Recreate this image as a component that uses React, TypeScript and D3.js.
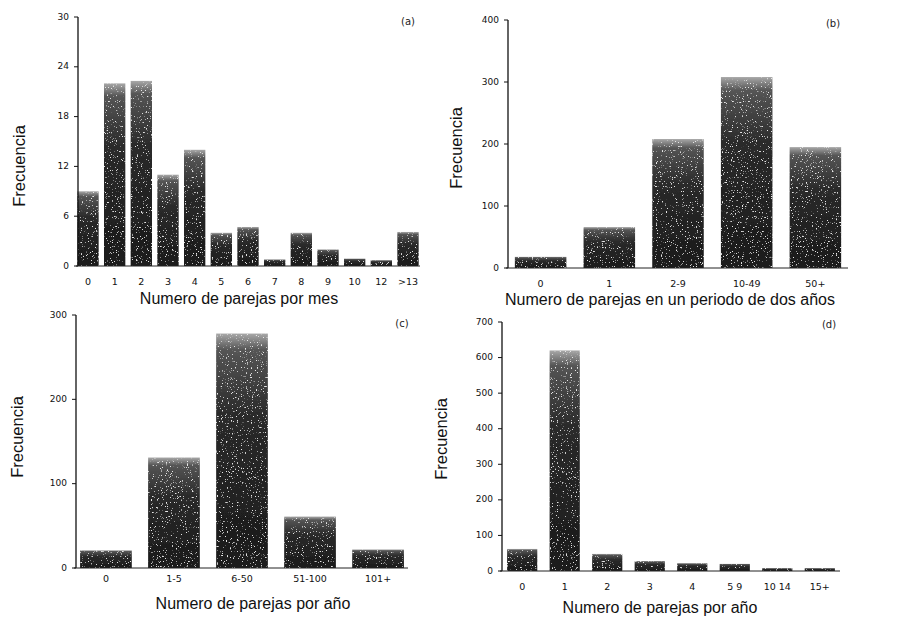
import React from "react";
import * as d3 from "d3";

const catsA = ["0", "1", "2", "3", "4", "5", "6", "7", "8", "9", "10", "12", ">13"];
const valsA = [9, 22, 22.3, 11, 14, 4, 4.7, 0.8, 4, 2, 0.9, 0.7, 4.1];
const ticksA = [0, 6, 12, 18, 24, 30];

const catsB = ["0", "1", "2-9", "10-49", "50+"];
const valsB = [18, 66, 208, 308, 195];
const ticksB = [0, 100, 200, 300, 400];

const catsC = ["0", "1-5", "6-50", "51-100", "101+"];
const valsC = [21, 131, 278, 61, 22];
const ticksC = [0, 100, 200, 300];

const catsD = ["0", "1", "2", "3", "4", "5 9", "10 14", "15+"];
const valsD = [62, 620, 48, 28, 22, 20, 8, 8];
const ticksD = [0, 100, 200, 300, 400, 500, 600, 700];

type PanelCfg = {
  id: string;
  cats: string[];
  vals: number[];
  ticks: number[];
  max: number;
  axisX: number;
  xRange: [number, number];
  yRange: [number, number];
  pi: number;
  po: number;
  tickY: number;
  title: string;
  titleX: number;
  titleY: number;
  yLabX: number;
  yLabY: number;
  tag: string;
  tagX: number;
  tagY: number;
};

const panels: PanelCfg[] = [
  {
    id: "a", cats: catsA, vals: valsA, ticks: ticksA, max: 30,
    axisX: 78, xRange: [76, 420], yRange: [266, 17], pi: 0.2, po: 0.05,
    tickY: 282, title: "Numero de parejas por mes", titleX: 239, titleY: 304,
    yLabX: 25, yLabY: 166, tag: "(a)", tagX: 408, tagY: 25,
  },
  {
    id: "b", cats: catsB, vals: valsB, ticks: ticksB, max: 400,
    axisX: 508, xRange: [508, 848], yRange: [268, 20], pi: 0.25, po: 0.1,
    tickY: 284, title: "Numero de parejas en un periodo de dos años", titleX: 670, titleY: 305,
    yLabX: 462, yLabY: 148, tag: "(b)", tagX: 833, tagY: 27,
  },
  {
    id: "c", cats: catsC, vals: valsC, ticks: ticksC, max: 300,
    axisX: 76, xRange: [76, 408], yRange: [568, 315], pi: 0.24, po: 0.06,
    tickY: 579, title: "Numero de parejas por año", titleX: 253, titleY: 609,
    yLabX: 23, yLabY: 437, tag: "(c)", tagX: 402, tagY: 327,
  },
  {
    id: "d", cats: catsD, vals: valsD, ticks: ticksD, max: 700,
    axisX: 502, xRange: [502, 840], yRange: [571, 322], pi: 0.29, po: 0.12,
    tickY: 587, title: "Numero de parejas por año", titleX: 660, titleY: 613,
    yLabX: 447, yLabY: 439, tag: "(d)", tagX: 829, tagY: 328,
  },
];

const sansTitle = "'Liberation Sans', Arial, sans-serif";
const sansTick = "'DejaVu Sans', 'Liberation Sans', sans-serif";

function Panel({ p }: { p: PanelCfg }) {
  const x = d3.scaleBand<number>()
    .domain(p.cats.map((_, i) => i))
    .range(p.xRange)
    .paddingInner(p.pi)
    .paddingOuter(p.po);
  const y = d3.scaleLinear().domain([0, p.max]).range(p.yRange);
  const y0 = y(0);
  return (
    <g>
      {p.vals.map((v, i) => (
        <rect
          key={i}
          x={x(i)}
          y={y(v)}
          width={x.bandwidth()}
          height={y0 - y(v)}
          fill="url(#barGrad)"
          filter="url(#speckle)"
        />
      ))}
      <line x1={p.axisX} x2={p.axisX} y1={y(p.max)} y2={y0} stroke="#111" strokeWidth={1.3} />
      <line x1={p.axisX - 2} x2={p.xRange[1]} y1={y0} y2={y0} stroke="#222" strokeWidth={1} />
      {p.ticks.map((t) => (
        <g key={t}>
          <line x1={p.axisX - 4} x2={p.axisX} y1={y(t)} y2={y(t)} stroke="#111" strokeWidth={1} />
          <text
            x={p.axisX - 9}
            y={y(t)}
            textAnchor="end"
            dominantBaseline="middle"
            fontSize={9}
            fontFamily={sansTick}
            fill="#111"
          >
            {t}
          </text>
        </g>
      ))}
      {p.cats.map((c, i) => (
        <text
          key={i}
          x={(x(i) as number) + x.bandwidth() / 2}
          y={p.tickY}
          textAnchor="middle"
          dominantBaseline="middle"
          fontSize={9.5}
          fontFamily={sansTick}
          fill="#111"
        >
          {c}
        </text>
      ))}
      <text x={p.titleX} y={p.titleY} textAnchor="middle" fontSize={16} fontFamily={sansTitle} fill="#111">
        {p.title}
      </text>
      <text
        transform={`translate(${p.yLabX},${p.yLabY}) rotate(-90)`}
        textAnchor="middle"
        fontSize={16.5}
        fontFamily={sansTitle}
        fill="#111"
      >
        Frecuencia
      </text>
      <text x={p.tagX} y={p.tagY} textAnchor="middle" fontSize={10} fontFamily={sansTick} fill="#222">
        {p.tag}
      </text>
    </g>
  );
}

export default function App() {
  return (
    <svg width={900} height={623} style={{ position: "absolute", left: 0, top: 0, background: "#fff" }}>
      <defs>
        <linearGradient id="barGrad" x1="0" y1="0" x2="0" y2="1">
          <stop offset="0" stopColor="#a8a8a8" />
          <stop offset="0.07" stopColor="#555" />
          <stop offset="0.35" stopColor="#2a2a2a" />
          <stop offset="1" stopColor="#1a1a1a" />
        </linearGradient>
        <filter id="speckle" x="0" y="0" width="1" height="1">
          <feTurbulence type="fractalNoise" baseFrequency="0.8" numOctaves="2" seed="3" result="noise" />
          <feColorMatrix
            in="noise"
            type="matrix"
            values="0 0 0 0 0.8  0 0 0 0 0.8  0 0 0 0 0.8  0 0 0 10 -6.6"
            result="dots"
          />
          <feComposite in="dots" in2="SourceGraphic" operator="in" result="dotsIn" />
          <feMerge>
            <feMergeNode in="SourceGraphic" />
            <feMergeNode in="dotsIn" />
          </feMerge>
        </filter>
      </defs>
      {panels.map((p) => (
        <Panel key={p.id} p={p} />
      ))}
    </svg>
  );
}
